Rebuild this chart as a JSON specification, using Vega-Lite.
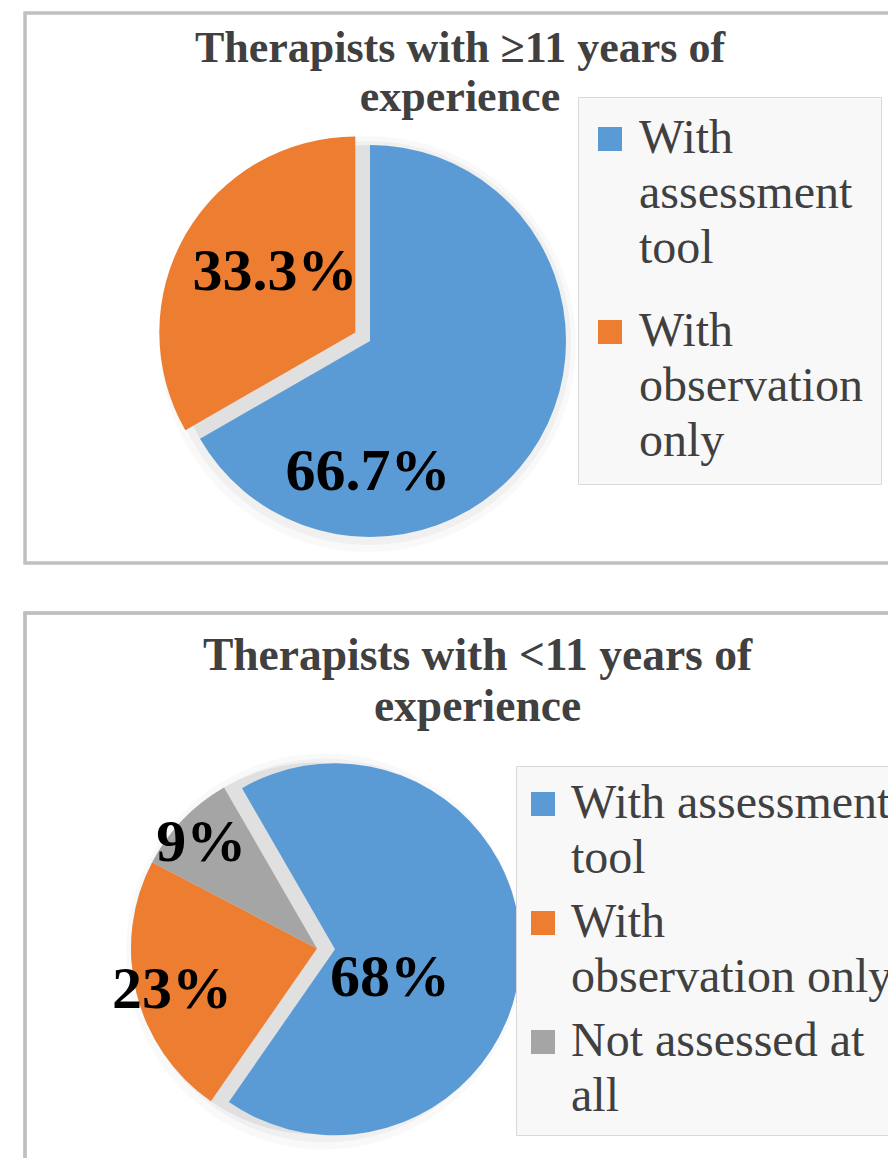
{
  "$schema": "https://vega.github.io/schema/vega-lite/v6.json",
  "background": "white",
  "padding": {"left": 23, "top": 11, "right": 0, "bottom": 0},
  "spacing": 46,
  "config": {
    "view": {"stroke": null},
    "font": "Liberation Serif",
    "style": {"guide-label": {"lineHeight": 55}},
    "legend": {
      "title": null,
      "labelFont": "Liberation Serif",
      "labelFontSize": 48,
      "labelColor": "#404040",
      "labelLimit": 2000,
      "symbolType": "square",
      "symbolSize": 576,
      "symbolStrokeWidth": 0,
      "symbolOpacity": 1,
      "fillColor": "#f8f8f8",
      "strokeColor": "#d9d9d9"
    }
  },
  "resolve": {"scale": {"theta": "independent", "color": "independent"}, "legend": {"color": "independent"}},
  "vconcat": [
    {
      "width": 870,
      "height": 550,
      "title": {
        "text": ["Therapists with ≥11 years of", "experience"],
        "font": "Liberation Serif", "fontSize": 44, "fontWeight": "bold", "color": "#404040",
        "lineHeight": 49, "anchor": "middle", "frame": "group", "baseline": "alphabetic", "offset": -143
      },
      "data": {"values": [
        {"category": "With assessment tool", "rank": 1, "value": 66.7, "label": "66.7%"},
        {"category": "With observation only", "rank": 2, "value": 33.3, "label": "33.3%"}
      ]},
      "layer": [
        {
          "mark": {"type": "rect", "fill": "#ffffff", "fillOpacity": 0, "stroke": "#bfbfbf", "strokeWidth": 3},
          "encoding": {}
        },
        {
          "mark": {"type": "arc", "outerRadius": 208, "color": "#000000", "opacity": 0.025, "xOffset": -92, "yOffset": 56},
          "encoding": {
            "theta": {"aggregate": "sum", "field": "value", "type": "quantitative", "scale": {"range": [0, 6.283185]}}
          }
        },
        {
          "mark": {"type": "arc", "outerRadius": 202, "color": "#000000", "opacity": 0.035, "xOffset": -91, "yOffset": 55},
          "encoding": {
            "theta": {"aggregate": "sum", "field": "value", "type": "quantitative", "scale": {"range": [0, 6.283185]}}
          }
        },
        {
          "mark": {"type": "arc", "outerRadius": 196, "color": "#e0e0e0", "xOffset": -90, "yOffset": 53},
          "encoding": {
            "theta": {"aggregate": "sum", "field": "value", "type": "quantitative", "scale": {"range": [0, 6.283185]}}
          }
        },
        {
          "mark": {"type": "arc", "outerRadius": 196,
            "xOffset": {"expr": "datum.category === 'With observation only' ? -104.7 : -90"},
            "yOffset": {"expr": "datum.category === 'With observation only' ? 44.5 : 53"}},
          "encoding": {
            "theta": {"field": "value", "type": "quantitative", "stack": true, "scale": {"range": [0, 6.283185]}},
            "order": {"field": "rank", "type": "quantitative"},
            "color": {
              "field": "category", "type": "nominal",
              "scale": {"domain": ["With assessment tool", "With observation only"], "range": ["#5b9bd5", "#ed7d31"]},
              "legend": {
                "orient": "none", "legendX": 553, "legendY": 84, "rowPadding": 35,
                "padding": 18, "symbolOffset": -10, "labelOffset": 5,
                "labelExpr": "datum.label === 'With assessment tool' ? ['With', 'assessment', 'tool'] : ['With', 'observation', 'only']"
              }
            }
          }
        },
        {
          "mark": {"type": "text", "radius": 100, "font": "Liberation Serif", "fontSize": 60, "fontWeight": "bold", "color": "#000000",
            "xOffset": {"expr": "datum.category === 'With observation only' ? -98.4 : -178.6"},
            "yOffset": {"expr": "datum.category === 'With observation only' ? 34 : 134"}},
          "encoding": {
            "theta": {"field": "value", "type": "quantitative", "stack": true, "scale": {"range": [0, 6.283185]}},
            "order": {"field": "rank", "type": "quantitative"},
            "detail": {"field": "category", "type": "nominal"},
            "text": {"field": "label", "type": "nominal"}
          }
        }
      ]
    },
    {
      "width": 905,
      "height": 550,
      "title": {
        "text": ["Therapists with <11 years of", "experience"],
        "font": "Liberation Serif", "fontSize": 45.5, "fontWeight": "bold", "color": "#404040",
        "lineHeight": 51, "anchor": "middle", "frame": "group", "baseline": "alphabetic", "offset": -154.5
      },
      "data": {"values": [
        {"category": "With assessment tool", "rank": 1, "value": 68, "label": "68%"},
        {"category": "With observation only", "rank": 2, "value": 23, "label": "23%"},
        {"category": "Not assessed at all", "rank": 3, "value": 9, "label": "9%"}
      ]},
      "layer": [
        {
          "mark": {"type": "rect", "fill": "#ffffff", "fillOpacity": 0, "stroke": "#bfbfbf", "strokeWidth": 3},
          "encoding": {}
        },
        {
          "mark": {"type": "arc", "outerRadius": 198, "color": "#000000", "opacity": 0.025, "xOffset": -153.5, "yOffset": 63.5},
          "encoding": {
            "theta": {"aggregate": "sum", "field": "value", "type": "quantitative", "scale": {"range": [-0.523599, 5.759587]}}
          }
        },
        {
          "mark": {"type": "arc", "outerRadius": 192, "color": "#000000", "opacity": 0.035, "xOffset": -152.5, "yOffset": 62.5},
          "encoding": {
            "theta": {"aggregate": "sum", "field": "value", "type": "quantitative", "scale": {"range": [-0.523599, 5.759587]}}
          }
        },
        {
          "mark": {"type": "arc", "outerRadius": 186, "color": "#e0e0e0", "xOffset": -160.5, "yOffset": 60.5},
          "encoding": {
            "theta": {"aggregate": "sum", "field": "value", "type": "quantitative", "scale": {"range": [-0.523599, 5.759587]}}
          }
        },
        {
          "mark": {"type": "arc", "outerRadius": 186,
            "xOffset": {"expr": "datum.category === 'With assessment tool' ? -142.5 : -160.5"},
            "yOffset": {"expr": "datum.category === 'With assessment tool' ? 61.25 : 60.5"}},
          "encoding": {
            "theta": {"field": "value", "type": "quantitative", "stack": true, "scale": {"range": [-0.523599, 5.759587]}},
            "order": {"field": "rank", "type": "quantitative"},
            "color": {
              "field": "category", "type": "nominal",
              "scale": {"domain": ["With assessment tool", "With observation only", "Not assessed at all"], "range": ["#5b9bd5", "#ed7d31", "#a5a5a5"]},
              "legend": {
                "orient": "none", "legendX": 491, "legendY": 153, "rowPadding": 16,
                "padding": 14, "symbolOffset": -11, "labelOffset": 4,
                "labelExpr": "datum.label === 'With assessment tool' ? ['With assessment', 'tool'] : datum.label === 'With observation only' ? ['With', 'observation only'] : ['Not assessed at', 'all']"
              }
            }
          }
        },
        {
          "mark": {"type": "text", "radius": 155, "font": "Liberation Serif", "fontSize": 60, "fontWeight": "bold", "color": "#000000",
            "xOffset": {"expr": "datum.category === 'With assessment tool' ? -242.4 : datum.category === 'With observation only' ? -155 : -164.5"},
            "yOffset": {"expr": "datum.category === 'With assessment tool' ? 84 : datum.category === 'With observation only' ? 65.5 : 62.5"}},
          "encoding": {
            "theta": {"field": "value", "type": "quantitative", "stack": true, "scale": {"range": [-0.523599, 5.759587]}},
            "order": {"field": "rank", "type": "quantitative"},
            "detail": {"field": "category", "type": "nominal"},
            "text": {"field": "label", "type": "nominal"}
          }
        }
      ]
    }
  ]
}
